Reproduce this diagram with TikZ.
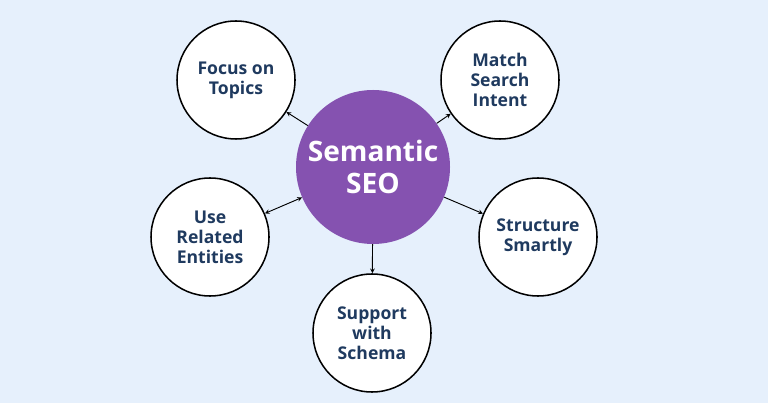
\documentclass[tikz,border=0pt]{standalone}
\usepackage{fontspec}
\setmainfont{Open Sans}
\usetikzlibrary{arrows}
\definecolor{bgblue}{HTML}{E6F0FC}
\definecolor{seopurple}{HTML}{8552B0}
\definecolor{navytext}{HTML}{1F3A5F}
\tikzstyle{topic} = [draw,circle,line width=1.3pt,fill=white,minimum size=3.54cm,align=center,text=navytext,font=\fontsize{15}{17}\selectfont\bfseries]
\tikzstyle{arrow} = [thick,->,>=stealth]

\begin{document}
\begin{tikzpicture}[x=0.03cm,y=-0.03cm]
            % background
            \fill[bgblue] (0,0) rectangle (768,403);
            % hub
            \node[circle,fill=seopurple,minimum size=4.62cm,align=center,text=white,font=\fontsize{24}{27}\selectfont\bfseries] (seo) at (373,167) {Semantic\\SEO};
            % topics
            \node[topic] (focus) at (236,80) {Focus on\\Topics};
            \node[topic] (match) at (500,80) {Match\\Search\\Intent};
            \node[topic] (use) at (210,237) {Use\\Related\\Entities};
            \node[topic] (struct) at (538,237) {Structure\\Smartly};
            \node[topic] (support) at (372,333) {Support\\with\\Schema};
            \draw[arrow] (seo) -- (focus);
            \draw[arrow] (seo) -- (match);
            \draw[arrow,<->] (seo) -- (use);
            \draw[arrow] (seo) -- (struct);
            \draw[arrow] (seo) -- (support);
        \end{tikzpicture}
\end{document}
